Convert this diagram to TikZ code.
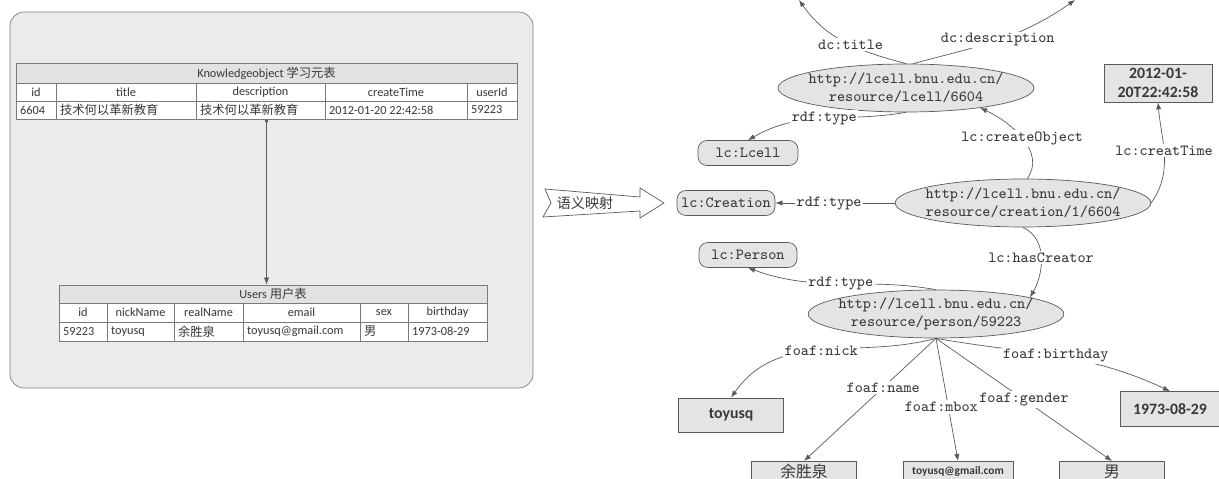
\documentclass[tikz,border=0pt]{standalone}
\usepackage{fontspec}
\setmainfont{Carlito}
\newfontfamily\cjk{Noto Sans CJK SC}
\usetikzlibrary{arrows.meta,positioning,shapes.geometric}
\definecolor{nodegray}{HTML}{E4E4E4}
\definecolor{linegray}{HTML}{5A5A5A}
\definecolor{panelgray}{HTML}{EBEBEB}
\definecolor{tablegray}{HTML}{7A7A7A}
\definecolor{titlegray}{HTML}{E2E2E2}
\definecolor{textgray}{HTML}{383838}

\begin{document}
\begin{tikzpicture}[x=0.02cm, y=-0.02cm,
  line/.style={-{Latex[length=4pt,width=3pt]}, draw=linegray},
  res/.style={ellipse, draw=linegray, fill=nodegray, align=center, inner xsep=-4pt, inner ysep=0pt, minimum height=0.96cm, font=\ttfamily\fontsize{8.8}{10.5}\selectfont, text=textgray},
  cls/.style={rectangle, rounded corners=5pt, draw=linegray, fill=nodegray, minimum height=0.5cm, inner sep=1pt, font=\ttfamily\fontsize{8.8}{10.5}\selectfont, text=textgray},
  lit/.style={rectangle, draw=linegray, fill=nodegray, align=center, inner sep=1pt, font=\bfseries\fontsize{9}{10.5}\selectfont, text=textgray},
  lbl/.style={fill=white, inner sep=1pt, font=\ttfamily\fontsize{8.8}{10.5}\selectfont, text=textgray},
  cell/.style={draw=tablegray, fill=white},
  thead/.style={font=\fontsize{7}{8}\selectfont, text=textgray},
  tdata/.style={anchor=west, inner sep=1pt, font=\fontsize{7}{8}\selectfont, text=textgray},
  tframe/.style={rectangle, draw=tablegray, inner sep=0pt, minimum height=1.12cm}]
\useasboundingbox (0,0) rectangle (1219,479);
\clip (0,0) rectangle (1219,479);

\draw[rounded corners=8pt, draw=gray, fill=panelgray] (10,12) rectangle (533,388);

\draw[draw=tablegray, fill=titlegray] (16,63) rectangle (517,83);
\node[thead] (ktitle) at (266.5,73) {Knowledgeobject {\cjk 学习元表}};
\foreach \xa/\xb/\hd/\dt [count=\i] in {16/56/id/6604, 56/196/title/{\cjk 技术何以革新教育}, 196/325/description/{\cjk 技术何以革新教育}, 325/467/createTime/2012-01-20 22:42:58, 467/517/userId/59223}{
  \draw[cell] (\xa,83) rectangle (\xb,101);
  \draw[cell] (\xa,101) rectangle (\xb,119);
  \node[thead] (kh\i) at ({(\xa+\xb)/2},92) {\hd};
  \node[tdata] (kd\i) at (\xa+2,110) {\dt};
}
\node[tframe, minimum width=10.02cm] (ktable) at (266.5,91) {};

\draw[draw=tablegray, fill=titlegray] (59,285) rectangle (487,303);
\node[thead] (utitle) at (273,294) {Users {\cjk 用户表}};
\foreach \xa/\xb/\hd/\dt [count=\i] in {59/107/id/59223, 107/174/nickName/toyusq, 174/243/realName/{\cjk 余胜泉}, 243/360/email/toyusq@gmail.com, 360/408/sex/{\cjk 男}, 408/487/birthday/1973-08-29}{
  \draw[cell] (\xa,303) rectangle (\xb,322);
  \draw[cell] (\xa,322) rectangle (\xb,341);
  \node[thead] (uh\i) at ({(\xa+\xb)/2},312.5) {\hd};
  \node[tdata] (ud\i) at (\xa+2,331.5) {\dt};
}
\node[tframe, minimum width=8.56cm] (utable) at (273,313) {};

\draw[draw=linegray, {Circle[length=2pt]}-{Latex[length=4pt,width=3pt]}] (ktable.south) -- (ktable.south |- utable.north);

\draw[draw=linegray, fill=white] (545,189) -- (640,197) -- (640,188) -- (664,203) -- (640,218) -- (640,211) -- (543,217) -- (551,203) -- cycle;
\node[font=\cjk\fontsize{8}{9}\selectfont, text=textgray] (mapping) at (585,203) {语义映射};

\coordinate (tl) at (799,0);
\coordinate (tr) at (1075,0);
\node[res, minimum width=5.12cm] (lcell) at (906,88) {http://lcell.bnu.edu.cn/\\resource/lcell/6604};
\node[lit, minimum width=2.16cm, minimum height=0.76cm] (ctime) at (1158,83) {2012-01-\\20T22:42:58};
\node[cls, minimum width=2cm] (clcell) at (748,153) {lc:Lcell};
\node[res, minimum width=4.94cm] (creation) at (1023,203) {http://lcell.bnu.edu.cn/\\resource/creation/1/6604};
\node[cls, minimum width=1.96cm] (ccreation) at (726,203) {lc:Creation};
\node[cls, minimum width=1.96cm] (cperson) at (748,255) {lc:Person};
\node[res, minimum width=5.04cm] (person) at (936,314) {http://lcell.bnu.edu.cn/\\resource/person/59223};
\node[lit, minimum width=2.1cm, minimum height=0.68cm] (nick) at (731,415) {toyusq};
\node[lit, minimum width=2cm, minimum height=0.7cm] (bday) at (1170,409) {1973-08-29};
\node[lit, anchor=north, minimum width=2.1cm, minimum height=0.42cm, font=\cjk\fontsize{9}{10}\selectfont] (rname) at (804,461) {余胜泉};
\node[lit, anchor=north, minimum width=2.2cm, minimum height=0.42cm, font=\bfseries\fontsize{6.5}{8}\selectfont] (mbox) at (958,461) {toyusq@gmail.com};
\node[lit, anchor=north, minimum width=2.1cm, minimum height=0.42cm, font=\cjk\fontsize{9}{10}\selectfont] (gender) at (1112,461) {男};

\draw[line] (lcell.north) to[out=165,in=-55] node[lbl,pos=0.45] {dc:title} (tl);
\draw[line] ([xshift=4pt]lcell.north) to[out=15,in=-145] node[lbl,pos=0.5] {dc:description} (tr);
\draw[line] (lcell.south) to[out=190,in=30] node[lbl,pos=0.5] {rdf:type} (clcell.north);
\draw[line] (creation.80) to[out=55,in=-25] node[lbl,pos=0.5] {lc:createObject} (lcell.-15);
\draw[line] (creation.east) to[out=55,in=-85] node[lbl,pos=0.55] {lc:creatTime} (ctime.south);
\draw[line] (creation.west) -- node[lbl,pos=0.55] {rdf:type} (ccreation.east);
\draw[line] (creation.south) to[out=-25,in=60] node[lbl,pos=0.5] {lc:hasCreator} (person.10);
\draw[line] (person.north) to[out=170,in=-20] node[lbl,pos=0.5] {rdf:type} (cperson.south);
\draw[line] (person.south) to[out=195,in=55] node[lbl,pos=0.5] {foaf:nick} (nick.north);
\draw[line] (person.south) -- node[lbl,pos=0.4] {foaf:name} (rname.north);
\draw[line] (person.south) -- node[lbl,pos=0.56,xshift=-4pt] {foaf:mbox} (mbox.north);
\draw[line] (person.south) -- node[lbl,pos=0.5] {foaf:gender} (gender.north);
\draw[line] (person.south) to[out=-10,in=155] node[lbl,pos=0.5] {foaf:birthday} (bday.north);
\end{tikzpicture}
\end{document}
